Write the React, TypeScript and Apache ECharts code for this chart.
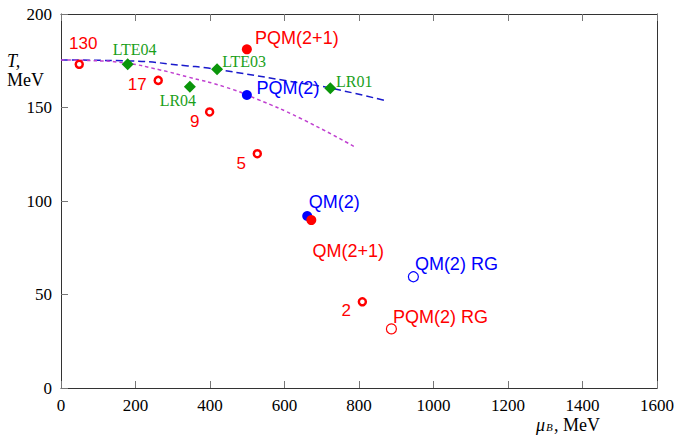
import React, { useEffect, useRef } from "react";
import * as echarts from "echarts";

// Lines
const blueMu = [0, 185, 341, 395, 642, 723, 875];
const blueT = [175.4, 174.9, 172.2, 171.1, 163.1, 160.4, 153.5];
const magMu = [0, 78, 172, 266, 341, 440, 526, 641, 789];
const magT = [175.4, 175.1, 173.8, 170.1, 166.3, 161, 154.5, 144.4, 128.9];

// Red open small circles (sqrt s labels)
const sNames = ["130", "17", "9", "5", "2"];
const sMu = [49, 261, 399, 527, 809];
const sT = [173.1, 164.5, 147.6, 125.3, 46.1];

// Green diamonds (lattice)
const latNames = ["LTE04", "LR04", "LTE03", "LR01"];
const latMu = [179, 346, 419, 723];
const latT = [173.1, 161.1, 170.4, 160.3];

// Model filled points
const fillNames = ["PQM(2+1)", "PQM(2)", "QM(2)", "QM(2+1)"];
const fillMu = [499, 499, 661, 672];
const fillT = [181.1, 156.7, 92, 89.8];

// Model open points (RG)
const rgNames = ["QM(2) RG", "PQM(2) RG"];
const rgMu = [946, 887];
const rgT = [59.5, 31.6];

const RED = "#ff0000";
const BLUE = "#0000ff";
const colorOf: Record<string, string> = {
  "PQM(2+1)": RED,
  "PQM(2)": BLUE,
  "QM(2)": BLUE,
  "QM(2+1)": RED,
  "QM(2) RG": BLUE,
  "PQM(2) RG": RED,
};
const labelOffset: Record<string, [number, number]> = {
  "130": [4, -21],
  "17": [-21, 4],
  "9": [-15, 10],
  "5": [-16, 10],
  "2": [-16, 9],
  LTE04: [7, -15],
  LR04: [-12, 14],
  LTE03: [27, -8],
  LR01: [24, -7],
  "PQM(2+1)": [50, -11],
  "PQM(2)": [41, -7],
  "QM(2)": [27, -14],
  "QM(2+1)": [37, 31],
  "QM(2) RG": [43, -13],
  "PQM(2) RG": [49, -12],
};

const SANS = "'Liberation Sans', Arial, sans-serif";
const SERIF = "'Liberation Serif', 'Times New Roman', serif";

function mkLabel(name: string, color: string, font: string, size: number) {
  return {
    show: true,
    formatter: name,
    position: "inside",
    offset: labelOffset[name],
    color,
    fontFamily: font,
    fontSize: size,
    align: "center",
    verticalAlign: "middle",
  };
}

export default function App() {
  const ref = useRef<HTMLDivElement>(null);
  useEffect(() => {
    if (!ref.current) return;
    const chart = echarts.init(ref.current, undefined, { renderer: "svg" });
    const axisLineStyle = { color: "#333", width: 1 };
    const xBase = {
      type: "value",
      min: 0,
      max: 1600,
      interval: 200,
      splitLine: { show: false },
      axisLine: { show: true, onZero: false, lineStyle: axisLineStyle },
      axisTick: { show: true, inside: true, length: 7, lineStyle: { color: "#777" } },
    };
    const yBase = {
      type: "value",
      min: 0,
      max: 200,
      interval: 50,
      splitLine: { show: false },
      axisLine: { show: true, onZero: false, lineStyle: axisLineStyle },
    };
    chart.setOption({
      animation: false,
      backgroundColor: "#fff",
      grid: { left: 61, right: 19, top: 14, bottom: 47, containLabel: false },
      xAxis: [
        {
          ...xBase,
          position: "bottom",
          axisLabel: {
            color: "#000",
            fontFamily: SERIF,
            fontSize: 17,
            margin: 9,
            formatter: (v: number) => String(v),
          },
        },
        { ...xBase, position: "top", axisLabel: { show: false } },
      ],
      yAxis: [
        {
          ...yBase,
          position: "left",
          axisTick: { show: true, inside: true, length: 7, lineStyle: { color: "#777" } },
          axisLabel: {
            color: "#000",
            fontFamily: SERIF,
            fontSize: 17,
            margin: 9,
            formatter: (v: number) => String(v),
          },
        },
        {
          ...yBase,
          position: "right",
          axisTick: { show: false },
          axisLabel: { show: false },
        },
      ],
      series: [
        {
          type: "line",
          data: blueMu.map((m, i) => [m, blueT[i]]),
          smooth: true,
          showSymbol: false,
          lineStyle: { color: "#1a1acc", width: 1.5, type: [7, 4] },
          z: 2,
        },
        {
          type: "line",
          data: magMu.map((m, i) => [m, magT[i]]),
          smooth: true,
          showSymbol: false,
          lineStyle: { color: "#c040d0", width: 1.5, type: [3.5, 3] },
          z: 2,
        },
        {
          type: "scatter",
          symbol: "circle",
          symbolSize: 7,
          itemStyle: { color: "#fff", borderColor: RED, borderWidth: 2.5, opacity: 1 },
          data: sNames.map((n, i) => ({
            value: [sMu[i], sT[i]],
            label: mkLabel(n, RED, SANS, 17),
          })),
          z: 3,
        },
        {
          type: "scatter",
          symbol: "diamond",
          symbolSize: 12,
          itemStyle: { color: "#0a960a", opacity: 1 },
          data: latNames.map((n, i) => ({
            value: [latMu[i], latT[i]],
            label: mkLabel(n, "#1aa01a", SERIF, 16),
          })),
          z: 3,
        },
        {
          type: "scatter",
          symbol: "circle",
          symbolSize: 10,
          data: fillNames.map((n, i) => ({
            value: [fillMu[i], fillT[i]],
            itemStyle: { color: colorOf[n], opacity: 1 },
            label: mkLabel(n, colorOf[n], SANS, 18),
          })),
          z: 3,
        },
        {
          type: "scatter",
          symbol: "circle",
          symbolSize: 10,
          data: rgNames.map((n, i) => ({
            value: [rgMu[i], rgT[i]],
            itemStyle: {
              color: "#fff",
              borderColor: colorOf[n],
              borderWidth: 1.2,
              opacity: 1,
            },
            label: mkLabel(n, colorOf[n], SANS, 18),
          })),
          z: 3,
        },
      ],
      graphic: [
        {
          type: "text",
          left: 7,
          top: 52,
          style: { text: "T,", font: `italic 18px ${SERIF}`, fill: "#000" },
        },
        {
          type: "text",
          left: 7,
          top: 71,
          style: { text: "MeV", font: `18px ${SERIF}`, fill: "#000" },
        },
        {
          type: "text",
          left: 536,
          top: 416,
          style: { text: "μ", font: `italic 18px ${SERIF}`, fill: "#000" },
        },
        {
          type: "text",
          left: 546,
          top: 421,
          style: { text: "B", font: `italic 11px ${SERIF}`, fill: "#000" },
        },
        {
          type: "text",
          left: 554,
          top: 416,
          style: { text: ", MeV", font: `18px ${SERIF}`, fill: "#000" },
        },
      ],
    });
    return () => chart.dispose();
  }, []);
  return (
    <div
      ref={ref}
      style={{ position: "fixed", left: 0, top: 0, width: 677, height: 435 }}
    />
  );
}
